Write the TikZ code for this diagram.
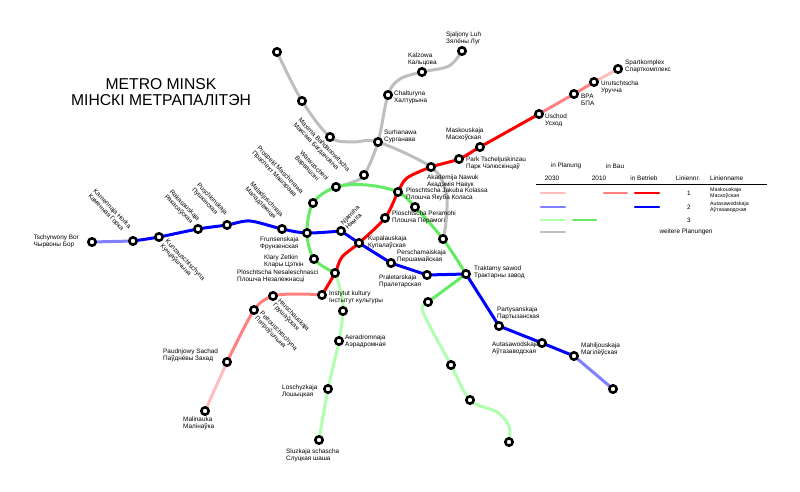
\documentclass[tikz,border=0pt]{standalone}
\usepackage{fontspec}
\setmainfont{Liberation Sans}
\usepackage{tikz}
\usepackage{tkz-euclide}
\definecolor{mred}{RGB}{255,0,0}
\definecolor{mredbau}{RGB}{255,128,128}
\definecolor{mredplan}{RGB}{255,190,190}
\definecolor{mblue}{RGB}{0,0,255}
\definecolor{mblueplan}{RGB}{128,128,255}
\definecolor{mgreenbau}{RGB}{100,235,100}
\definecolor{mgreenplan}{RGB}{175,255,175}
\definecolor{mgray}{RGB}{190,190,190}
\tikzset{
  lbl/.style={font=\fontsize{6.4}{6.8}\selectfont,align=left,inner sep=0pt},
  lbls/.style={font=\fontsize{5.3}{5.8}\selectfont,align=left,inner sep=0pt},
  rlbl/.style={lbl,rotate=-46},
  stat/.style={draw=black,fill=white,line width=2.6pt},
  lin/.style={line width=3pt},
  swatch/.style={line width=2.4pt}
}

\begin{document}
\begin{tikzpicture}[x=1pt,y=-1pt,line cap=round,line join=round]
\useasboundingbox (0,0) rectangle (800,492);
% stations of line 2
\tkzDefPoints{92/242/TschBor,133/241/KamHor,159/237/Kunz,198/229/Rakas,227/225/Pusch,
  282/229/Malad,307/233/Fruns,341/231/Njam,359/243/Kupal,391/263/Persch,427/275/Pralet,
  466/274/Trakt,499/326/Partys,542/343/Autas,574/356/Mahil,613/389/BEnd}
% stations of line 1
\tkzDefPoints{618/69/Spart,594/82/Uruch,574/94/BPA,539/114/Uschod,480/147/Mask,
  459/159/Park,431/167/Akad,398/192/Kolas,385/218/Peram,335/273/Nesal,322/295/Inst,
  273/296/Hrusch,254/310/Petr,227/362/Paud,205/411/Malin}
% stations of line 3 and of further plans
\tkzDefPoints{319/440/Sluz,328/389/Losch,339/341/Aerad,343/311/Gs1,314/259/Klary,
  313/203/Masch,336/187/Warw,415/207/Gs2,443/239/Gs3,428/302/Gs4,451/365/Gs5,
  470/400/Gs6,509/442/Gs7,277/52/Ps1,302/101/Ps2,330/137/Ps3,364/175/Bahd,
  378/142/Surh,388/95/Chalt,422/72/Kalz,462/51/Sjal}
% bends
\tkzDefPoints{352/142/w2,446/192/w4,446/222/w5,449/66/w6,400/79/w7,350/183/w8,
  341/292/w9,367/185/w10,423/312/w12,497/412/w13,509/426/w14,250/221/w15,
  342/257/w16,407/178/w17,300/294/w19}
% further plans
\draw[lin,mgray] plot[smooth,tension=.55] coordinates{(Ps1)(Ps2)(Ps3)(w2)(Surh)(Akad)(w4)(w5)(Gs3)};
\draw[lin,mgray] plot[smooth,tension=.55] coordinates{(Sjal)(w6)(Kalz)(w7)(Chalt)(Surh)(Bahd)(w8)(Warw)};
% line 3
\draw[lin,mgreenplan] plot[smooth,tension=.55] coordinates{(Nesal)(w9)(Gs1)(Aerad)(Losch)(Sluz)};
\draw[lin,mgreenbau] plot[smooth,tension=.55] coordinates{(Nesal)(Klary)(Fruns)(Masch)(Warw)(w10)(Kolas)(Gs2)(Gs3)(Trakt)}
  (Trakt)--(Gs4);
\draw[lin,mgreenplan] plot[smooth,tension=.55] coordinates{(Gs4)(w12)(Gs5)(Gs6)(w13)(w14)(Gs7)};
% line 2
\draw[lin,mblueplan](TschBor)--(KamHor)(Mahil)--(BEnd);
\draw[lin,mblue] plot[smooth,tension=.5] coordinates{(KamHor)(Kunz)(Rakas)(Pusch)(w15)(Malad)(Fruns)(Njam)}
  --(Kupal)--(Persch)--(Pralet)--(Trakt)--(Partys)--(Autas)--(Mahil);
% line 1
\draw[lin,mredplan](Malin)--(Paud)(Uruch)--(Spart);
\draw[lin,mredbau] plot[smooth,tension=.5] coordinates{(Paud)(Petr)(Hrusch)(w19)(Inst)};
\draw[lin,mredbau](Uschod)--(BPA)--(Uruch);
\draw[lin,mred] plot[smooth,tension=.5] coordinates{(Inst)(Nesal)(w16)(Kupal)(Peram)(Kolas)(w17)(Akad)(Park)(Mask)(Uschod)};
% stations
\foreach \s in {TschBor,KamHor,Kunz,Rakas,Pusch,Malad,Fruns,Njam,Kupal,Persch,Pralet,
  Trakt,Partys,Autas,Mahil,BEnd,Spart,Uruch,BPA,Uschod,Mask,Park,Akad,Kolas,Peram,
  Nesal,Inst,Hrusch,Petr,Paud,Malin,Sluz,Losch,Aerad,Gs1,Klary,Masch,Warw,Gs2,Gs3,
  Gs4,Gs5,Gs6,Gs7,Ps1,Ps2,Ps3,Bahd,Surh,Chalt,Kalz,Sjal}
  \draw[stat](\s) circle (3.7);
% title
\node[font=\fontsize{15.7}{16.7}\selectfont,align=center,inner sep=0pt] (title) at (161,92)
  {METRO MINSK\\МІНСКІ МЕТРАПАЛІТЭН};
% station names
\node[lbl,anchor=east] (tTschBor) at (79,241) {Tschyrwony Bor\\Чырвоны Бор};
\node[rlbl] (tKamHor) at (109.5,211.5) {Kamennaja Horka\\Каменная Горка};
\node[rlbl] (tKunz) at (182.5,262.5) {Kunzauschtschyna\\Кунцаўшчына};
\node[rlbl] (tRakas) at (182,208) {Rakasauskaja\\Ракасаўская};
\node[rlbl] (tPusch) at (209.5,201.5) {Puschkinskaja\\Пушкінская};
\node[rlbl] (tMalad) at (264,202) {Maladjoschnaja\\Маладзёжная};
\node[rlbl] (tMasch) at (277.5,172.5) {Prospekt Mascherawa\\Праспект Машэрава};
\node[rlbl] (tWarw) at (311.5,168.5) {Warwaschenі\\Варвашэні};
\node[rlbl] (tBahd) at (321.5,147.5) {Maxima Bahdanowitscha\\Максіма Багдановіча};
\node[lbl,rotate=45] (tNjam) at (352.5,217.5) {Njamiha\\Няміга};
\node[rlbl] (tHrusch) at (291,317.5) {Hruschauskaja\\Грушаўская};
\node[rlbl] (tPetr) at (276,333.5) {Petrouschtschyna\\Пятроўшчына};
\node[lbl,anchor=west] (tFruns) at (260,243) {Frunsenskaja\\Фрунзенская};
\node[lbl,anchor=west] (tKlary) at (264,261) {Klary Zetkin\\Клары Цэткін};
\node[lbl,anchor=west] (tNesal) at (237,276) {Ploschtscha Nesaleschnasci\\Плошча Незалежнасці};
\node[lbl,anchor=west] (tInst) at (329,297) {Instytut kultury\\Інстытут культуры};
\node[lbl,anchor=west] (tAerad) at (345,341) {Aeradromnaja\\Аэрадромная};
\node[lbl,anchor=west] (tLosch) at (282,391) {Loschyzkaja\\Лошыцкая};
\node[lbl,anchor=west] (tPaud) at (163,355) {Paudnjowy Sachad\\Паўднёвы Захад};
\node[lbl,anchor=west] (tMalin) at (183,423) {Malinauka\\Малінаўка};
\node[lbl,anchor=west] (tSluz) at (286,455) {Sluzkaja schascha\\Слуцкая шаша};
\node[lbl,anchor=west] (tKupal) at (368,242) {Kupalauskaja\\Купалаўская};
\node[lbl,anchor=west] (tPersch) at (397,256) {Perschamaiskaja\\Першамайская};
\node[lbl,anchor=west] (tPralet) at (379,281) {Praletarskaja\\Пралетарская};
\node[lbl,anchor=west] (tTrakt) at (474,272) {Traktarny sawod\\Трактарны завод};
\node[lbl,anchor=west] (tPartys) at (497,313) {Partysanskaja\\Партызанская};
\node[lbl,anchor=west] (tAutas) at (492,348) {Autasawodskaja\\Аўтазаводская};
\node[lbl,anchor=west] (tMahil) at (581,349) {Mahiljouskaja\\Магілёўская};
\node[lbl,anchor=west] (tPeram) at (392,217) {Ploschtscha Peramohi\\Плошча Перамогі};
\node[lbl,anchor=west] (tKolas) at (406,194) {Ploschtscha Jakuba Kolassa\\Плошча Якуба Коласа};
\node[lbl,anchor=west] (tAkad) at (427,181) {Akademija Nawuk\\Акадэмія Навук};
\node[lbl,anchor=west] (tPark) at (466,163) {Park Tscheljuskinzau\\Парк Чэлюскінцаў};
\node[lbl,anchor=west] (tMask) at (446,134) {Maskouskaja\\Маскоўская};
\node[lbl,anchor=west] (tUschod) at (545,120) {Uschod\\Усход};
\node[lbl,anchor=west] (tBPA) at (581,100) {BPA\\БПА};
\node[lbl,anchor=west] (tUruch) at (601,87) {Urutschtscha\\Уручча};
\node[lbl,anchor=west] (tSpart) at (625,66) {Spartkomplex\\Спарткомплекс};
\node[lbl,anchor=west] (tSurh) at (384,136) {Surhanawa\\Сурганава};
\node[lbl,anchor=west] (tChalt) at (394,97) {Chalturyna\\Халтурына};
\node[lbl,anchor=west] (tKalz) at (408,59) {Kalzowa\\Кальцова};
\node[lbl,anchor=west] (tSjal) at (446,38) {Sjaljony Luh\\Зялёны Луг};
% legend
\node[lbl] (hPlan) at (566,166) {in Planung};
\node[lbl] (hBau) at (615,166) {in Bau};
\node[lbl] (h2030) at (552,178) {2030};
\node[lbl] (h2010) at (599,178) {2010};
\node[lbl] (hBetr) at (644,178) {in Betrieb};
\node[lbl] (hNr) at (688,178) {Liniennr.};
\node[lbl,anchor=west] (hName) at (710,178) {Linienname};
\draw[line width=.8pt,line cap=butt](536,184)--(767,184);
\draw[swatch,mredplan](541,193)--(565,193);
\draw[swatch,mredbau](604,193)--(627,193);
\draw[swatch,mred](635,193)--(659,193);
\draw[swatch,mblueplan](541,207)--(565,207);
\draw[swatch,mblue](635,207)--(659,207);
\draw[swatch,mgreenplan](541,220)--(565,220);
\draw[swatch,mgreenbau](573,220)--(596,220);
\draw[swatch,mgray](541,232)--(565,232);
\node[lbl] (n1) at (689,193) {1};
\node[lbl] (n2) at (689,207) {2};
\node[lbl] (n3) at (689,220) {3};
\node[lbls,anchor=west] (name1) at (710,193) {Maskouskaja\\Маскоўская};
\node[lbls,anchor=west] (name2) at (710,207) {Autasawodskaja\\Аўтазаводская};
\node[lbl] (more) at (686,232) {weitere Planungen};
\end{tikzpicture}
\end{document}
